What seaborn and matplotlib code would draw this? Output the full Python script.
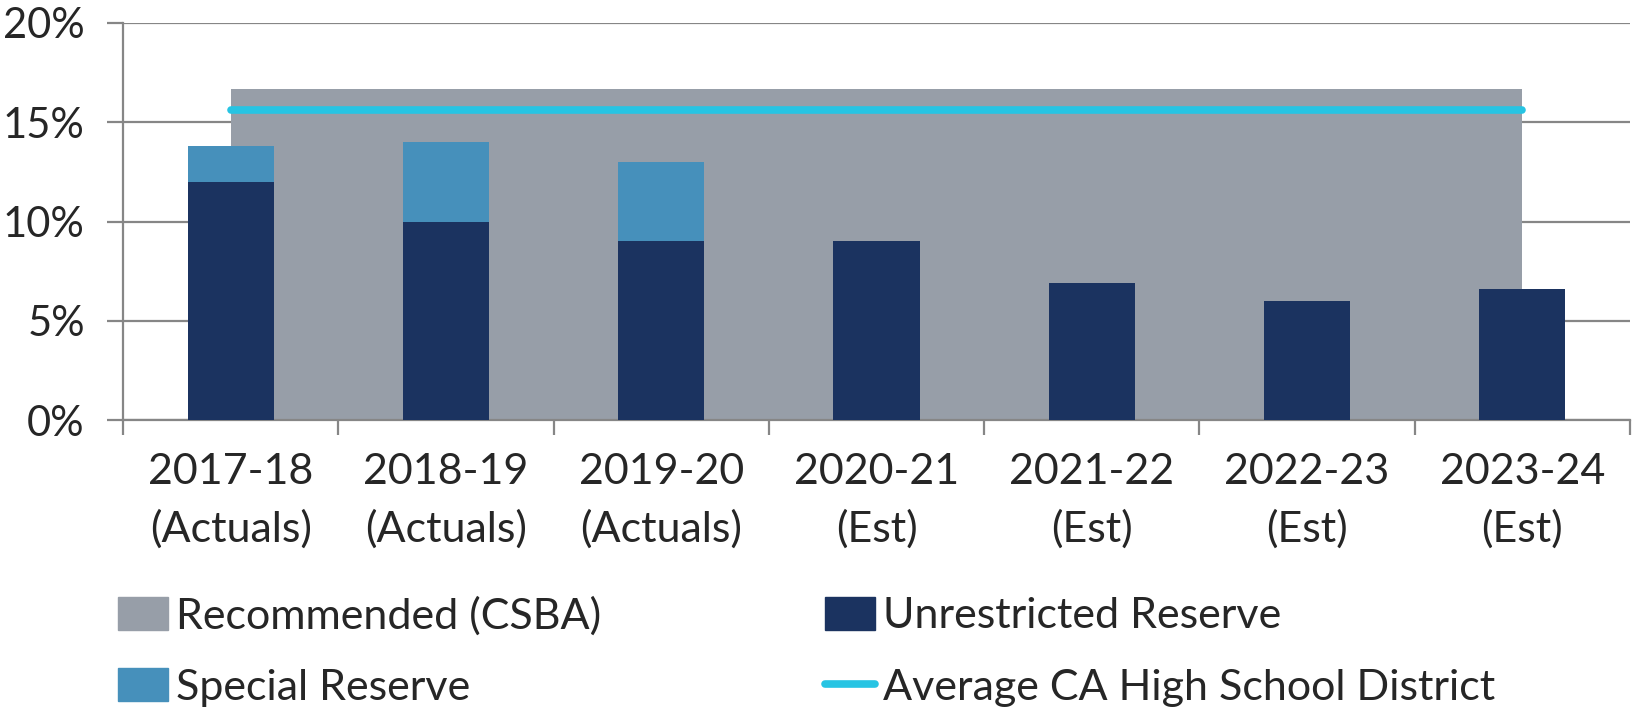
import matplotlib
matplotlib.use("Agg")
import matplotlib.pyplot as plt
import seaborn as sns
import pandas as pd
import numpy as np
from matplotlib.patches import Patch
from matplotlib.lines import Line2D
from matplotlib.ticker import FixedLocator, FixedFormatter

categories = ["2017-18\n(Actuals)", "2018-19\n(Actuals)", "2019-20\n(Actuals)",
              "2020-21\n(Est)", "2021-22\n(Est)", "2022-23\n(Est)", "2023-24\n(Est)"]
unrestricted = [12.0, 10.0, 9.0, 9.0, 6.9, 6.0, 6.6]
special = [1.8, 4.0, 4.0, 0.0, 0.0, 0.0, 0.0]
recommended = [16.67] * 7
average = [15.6] * 7
y_ticks = [0, 5, 10, 15, 20]
y_labels = ["0%", "5%", "10%", "15%", "20%"]

c_rec = "#979ea8"
c_unr = "#1b3360"
c_spe = "#4690bb"
c_avg = "#27c4e3"
c_axis = "#868686"

sns.set_theme(style="white")
plt.rcParams['font.family'] = ['Lato', 'DejaVu Sans']
FS = 31

df = pd.DataFrame({"cat": categories, "unr": unrestricted,
                   "total": [u + s for u, s in zip(unrestricted, special)],
                   "rec": recommended, "avg": average})

fig = plt.figure(figsize=(16.36, 7.17), dpi=100)
ax = fig.add_axes([123/1636, 1-420/717, (1630-123)/1636, (420-23)/717])

x = np.arange(len(categories))
ax.fill_between(x, 0, df["rec"], color=c_rec, lw=0, zorder=1)
sns.barplot(data=df, x="cat", y="total", color=c_spe, width=0.4, saturation=1,
            ax=ax, zorder=2, linewidth=0)
sns.barplot(data=df, x="cat", y="unr", color=c_unr, width=0.4, saturation=1,
            ax=ax, zorder=3, linewidth=0)
ax.plot(x, df["avg"], color=c_avg, lw=5.5, solid_capstyle="round", zorder=4)

ax.set_xlim(-0.5, len(categories) - 0.5)
ax.set_ylim(0, 20)
ax.set_xlabel("")
ax.set_ylabel("")
ax.yaxis.set_major_locator(FixedLocator(y_ticks))
ax.yaxis.set_major_formatter(FixedFormatter(y_labels))
ax.grid(axis="y", color=c_axis, lw=1.6, zorder=0)
ax.set_axisbelow(True)
for s in ["top", "right"]:
    ax.spines[s].set_visible(False)
for s in ["left", "bottom"]:
    ax.spines[s].set_color(c_axis)
    ax.spines[s].set_linewidth(1.6)
ax.tick_params(axis="y", which="major", length=11.5, width=1.6, color=c_axis,
               direction="out", pad=16, labelsize=30, left=True)
ax.set_xticks(x)
ax.set_xticklabels(categories, fontsize=FS, linespacing=1.55)
ax.tick_params(axis="x", which="major", length=0, pad=24, labelsize=FS)
ax.set_xticks(np.arange(-0.5, len(categories)), minor=True)
ax.tick_params(axis="x", which="minor", length=11, width=1.6, color=c_axis,
               direction="out", bottom=True)

handles = [Patch(color=c_rec), Patch(color=c_spe), Patch(color=c_unr),
           Line2D([0], [0], color=c_avg, lw=5.5, solid_capstyle="round")]
labels = ["Recommended (CSBA)", "Special Reserve", "Unrestricted Reserve",
          "Average CA High School District"]
fig.legend(handles, labels, ncol=2, loc="upper left",
           bbox_to_anchor=(118/1636, 1-596/717), frameon=False, fontsize=FS,
           handlelength=1.15, handleheight=0.83, handletextpad=0.2,
           columnspacing=5.2, labelspacing=0.75, borderpad=0, borderaxespad=0)

fig.savefig("out.png", dpi=100)
